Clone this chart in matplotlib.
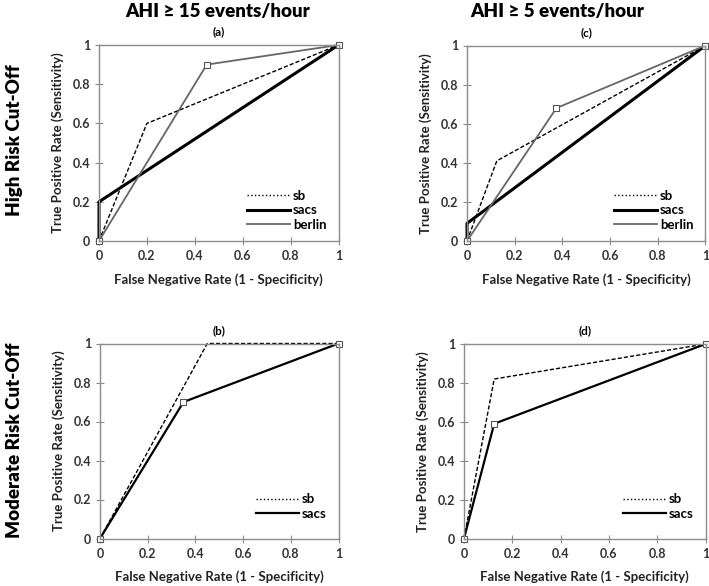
import matplotlib.pyplot as plt
from matplotlib.lines import Line2D

plt.rcParams['font.family'] = ['Lato', 'DejaVu Sans']
plt.rcParams['font.weight'] = 'bold'
plt.rcParams['axes.labelweight'] = 'bold'
plt.rcParams['axes.titleweight'] = 'bold'

# ROC points (x = 1 - specificity, y = sensitivity)
a_sb_x = [0, 0.2, 1];       a_sb_y = [0, 0.6, 1]
a_sacs_x = [0, 0, 1];       a_sacs_y = [0, 0.2, 1]
a_berlin_x = [0, 0.45, 1];  a_berlin_y = [0, 0.9, 1]

b_sb_x = [0, 0.45, 1];      b_sb_y = [0, 1, 1]
b_sacs_x = [0, 0.35, 1];    b_sacs_y = [0, 0.7, 1]

c_sb_x = [0, 0.125, 1];     c_sb_y = [0, 0.41, 1]
c_sacs_x = [0, 0, 1];       c_sacs_y = [0, 0.09, 1]
c_berlin_x = [0, 0.375, 1]; c_berlin_y = [0, 0.68, 1]

d_sb_x = [0, 0.125, 1];     d_sb_y = [0, 0.82, 1]
d_sacs_x = [0, 0.125, 1];   d_sacs_y = [0, 0.59, 1]

ticks = [0, 0.2, 0.4, 0.6, 0.8, 1]
tick_labels = ['0', '0.2', '0.4', '0.6', '0.8', '1']

fig = plt.figure(figsize=(7.09, 5.86), dpi=100)
W, H = 709, 586


def make_ax(x0, x1, ytop, ybot):
    return fig.add_axes([x0 / W, 1 - ybot / H, (x1 - x0) / W, (ybot - ytop) / H])


def style(ax, tag):
    ax.set_xlim(0, 1)
    ax.set_ylim(0, 1)
    ax.set_xticks(ticks)
    ax.set_yticks(ticks)
    ax.set_xticklabels(tick_labels, fontweight='bold')
    ax.set_yticklabels(tick_labels, fontweight='bold')
    for s in ax.spines.values():
        s.set_color('#8c8c8c')
        s.set_linewidth(1.0)
    ax.tick_params(direction='inout', length=6, color='#8c8c8c', labelsize=9,
                   labelcolor='#333333')
    ax.set_xlabel('False Negative Rate (1 - Specificity)', fontsize=9.5, labelpad=8,
                  fontweight='bold', color='#222222')
    ax.set_ylabel('True Positive Rate (Sensitivity)', fontsize=9.5, labelpad=6,
                  fontweight='bold', color='#222222')
    ax.set_title(tag, fontsize=8.5, pad=7, fontweight='bold')


def draw(ax, sb, sacs, berlin=None):
    ax.plot(sb[0], sb[1], color='black', lw=1.0, ls=(0, (3, 1.5)), clip_on=False)
    ax.plot(sacs[0], sacs[1], color='black', lw=2.2 if berlin else 1.6, clip_on=False,
            marker=None if berlin else 's', ms=5, mfc='white', mec='#555555', mew=0.8)
    handles = [Line2D([], [], color='black', lw=1.0, ls=':'),
               Line2D([], [], color='black', lw=2.2 if berlin else 1.6)]
    labels = ['sb', 'sacs']
    if berlin:
        ax.plot(berlin[0], berlin[1], color='#666666', lw=1.3, clip_on=False,
                marker='s', ms=5, mfc='white', mec='#555555', mew=0.8)
        handles.append(Line2D([], [], color='#666666', lw=1.3))
        labels.append('berlin')
    leg = ax.legend(handles, labels, loc='lower right', frameon=False, fontsize=9.5,
                    handlelength=3.3, handletextpad=0.2, labelspacing=0.2,
                    bbox_to_anchor=(1.0, -0.01 if berlin else 0.035))
    for t in leg.get_texts():
        t.set_fontweight('bold')


ax_a = make_ax(99, 338.5, 45, 241)
ax_b = make_ax(100, 338.5, 343.5, 538.5)
ax_c = make_ax(467, 705.5, 45.5, 241)
ax_d = make_ax(464, 705.5, 344, 538.5)

draw(ax_a, (a_sb_x, a_sb_y), (a_sacs_x, a_sacs_y), (a_berlin_x, a_berlin_y))
draw(ax_b, (b_sb_x, b_sb_y), (b_sacs_x, b_sacs_y))
draw(ax_c, (c_sb_x, c_sb_y), (c_sacs_x, c_sacs_y), (c_berlin_x, c_berlin_y))
draw(ax_d, (d_sb_x, d_sb_y), (d_sacs_x, d_sacs_y))

style(ax_a, '(a)')
style(ax_b, '(b)')
style(ax_c, '(c)')
style(ax_d, '(d)')

head = dict(fontsize=13.5, fontweight='heavy', family=['Lato', 'DejaVu Sans'])
fig.text(218 / W, 1 - 12 / H, 'AHI \u2265 15 events/hour', ha='center', va='center', **head)
fig.text(557 / W, 1 - 12 / H, 'AHI \u2265 5 events/hour', ha='center', va='center', **head)
fig.text(15 / W, 1 - 140 / H, 'High Risk Cut-Off', rotation=90, ha='center', va='center', **head)
fig.text(15 / W, 1 - 440 / H, 'Moderate Risk Cut-Off', rotation=90, ha='center', va='center',
         **head)

plt.savefig('out.png', dpi=100)
